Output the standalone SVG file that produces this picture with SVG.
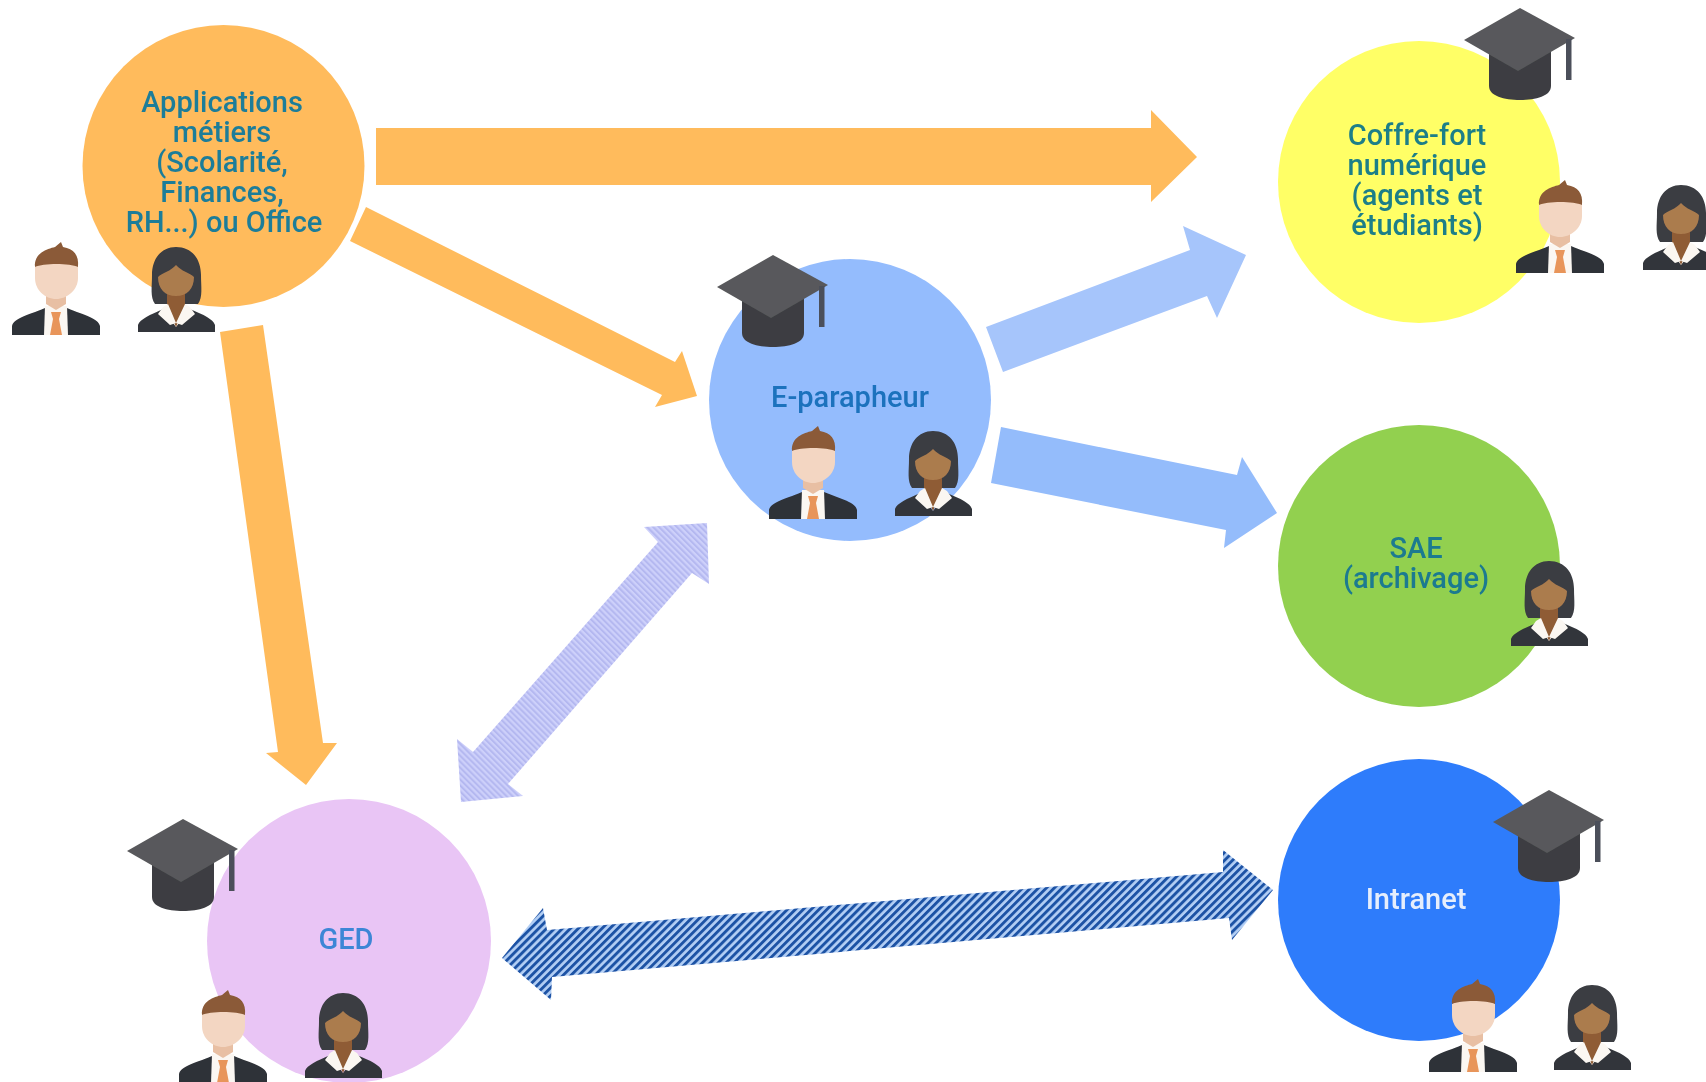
<svg xmlns="http://www.w3.org/2000/svg" width="1706" height="1082" viewBox="0 0 1706 1082">
<style>
.lbl{font-family:"Roboto","Liberation Sans",sans-serif;font-weight:500;font-size:29px;text-anchor:middle}
.o{fill:#ffbb5c}
</style>
<defs>
<filter id="soft" x="0" y="0" width="100%" height="100%"><feGaussianBlur stdDeviation="0.55"/></filter>
<pattern id="lav" width="4.2" height="4.2" patternUnits="userSpaceOnUse" patternTransform="rotate(-45)"><rect width="4.2" height="4.2" fill="#cdd0fa"/><rect width="2" height="4.2" fill="#b4b8f0"/></pattern>
<pattern id="navy" width="5.6" height="5.6" patternUnits="userSpaceOnUse" patternTransform="rotate(45)"><rect width="5.6" height="5.6" fill="#b3cff5"/><rect width="2.9" height="5.6" fill="#1f52a5"/></pattern>
<g id="man">
<path d="M0,93V84C2,76 14,74 33,66V93Z M88,93V84C86,76 74,74 55,66V93Z" fill="#2e3137"/>
<path d="M33,64H55L56,93H32Z" fill="#fbf7f2"/>
<path d="M34,50H54V62L44,68L34,62Z" fill="#e8bfa3"/>
<path d="M39,70H49L47,77H41Z M41,77H47L50,93H38Z" fill="#e8955a"/>
<path d="M23,25V36C23,48 33,57 44,57C55,57 66,48 66,36V25C60,20 30,20 23,25Z" fill="#f3d6c2"/>
<path d="M23,25C22,11 35,7 43,5L49,0L51,5C62,7 67,13 66,25C58,21 31,21 23,25Z" fill="#8b5a37"/>
</g>
<g id="woman">
<path d="M38,0C54,0 63,12 63,28C63,40 65,50 60,57H17C12,50 14,40 14,28C14,12 23,0 38,0Z" fill="#3a3c42"/>
<path d="M0,85V78C2,72 12,68 25,62L38,80L52,62C66,68 75,72 77,78V85Z" fill="#33363b"/>
<path d="M29,44H47V60L38,80L29,60Z" fill="#8f5c35"/>
<path d="M25,60L30,57L38,76L32,78L20,67Z M52,60L47,57L38,76L44,78L57,67Z" fill="#fbf7f2"/>
<path d="M38,18C33,24 24,26 20,30C20,42 27,49 38,49C49,49 56,42 56,30C52,26 43,24 38,18Z" fill="#ab7b4e"/>
</g>
<g id="cap">
<path d="M25,40V78C25,88 40,92 56,92C72,92 87,88 87,78V40Z" fill="#3d3e42"/>
<path d="M0,32L56,0L111,30L54,63Z" fill="#58595b"/>
<rect x="102" y="31" width="5.5" height="41" fill="#4b4f5a"/>
</g>
</defs>
<rect width="1706" height="1082" fill="#ffffff"/>
<g filter="url(#soft)">
<g id="connectors">
<polygon class="o" points="376,128 1151,128 1151,110 1197,157 1151,202 1151,185 376,185"/>
<polygon class="o" points="366,207 675,362 682,351 697,396 655,407 662,395 350,241"/>
<polygon class="o" points="220,332 263,325 323,743 337,743 306,785 266,753 278,752"/>
<polygon fill="#a6c5fb" points="986,327 1190,250 1183,226 1246,255 1217,318 1207,296 1003,372"/>
<polygon fill="#94bcfb" points="1001,427 1237,475 1242,457 1277,513 1224,548 1226,530 991,483"/>
<polygon fill="url(#lav)" points="707,523 644,527 658,542 473,752 457,739 461,802 523,796 508,784 692,573 709,584"/>
<polygon fill="url(#navy)" points="502,958 543,908 547,930 1223,872 1223,850 1273,890 1232,940 1229,918 552,977 551,1000"/>
</g>
<g id="node-applications">
<circle cx="223.500" cy="166" r="141" fill="#ffbb5c"/>
<text class="lbl" fill="#1f7d99"><tspan x="222" y="112">Applications</tspan><tspan x="222" y="142">métiers</tspan><tspan x="222" y="172">(Scolarité,</tspan><tspan x="222" y="202">Finances,</tspan><tspan x="224" y="232">RH...) ou Office</tspan></text>
<use href="#man" x="12" y="242"/>
<use href="#woman" x="138" y="247"/>
</g>
<g id="node-eparapheur">
<circle cx="850" cy="400" r="141" fill="#94bcfd"/>
<text class="lbl" fill="#1b72bd" x="850" y="407">E-parapheur</text>
<use href="#cap" x="717" y="255"/>
<use href="#man" x="769" y="426"/>
<use href="#woman" x="895" y="431"/>
</g>
<g id="node-coffre">
<circle cx="1419" cy="182" r="141" fill="#ffff66"/>
<text class="lbl" fill="#1f7f88"><tspan x="1417" y="145">Coffre-fort</tspan><tspan x="1417" y="175">numérique</tspan><tspan x="1417" y="205">(agents et</tspan><tspan x="1417" y="235">étudiants)</tspan></text>
<use href="#cap" x="1464" y="8"/>
<use href="#man" x="1516" y="180"/>
<use href="#woman" x="1643" y="185"/>
</g>
<g id="node-sae">
<circle cx="1419" cy="566" r="141" fill="#92d050"/>
<text class="lbl" fill="#1a7a90"><tspan x="1416" y="558">SAE</tspan><tspan x="1416" y="588">(archivage)</tspan></text>
<use href="#woman" x="1511" y="561"/>
</g>
<g id="node-intranet">
<circle cx="1419" cy="900" r="141" fill="#2e7cfb"/>
<text class="lbl" fill="#e6eefc" x="1416" y="909">Intranet</text>
<use href="#cap" x="1493" y="790"/>
<use href="#man" x="1429" y="979"/>
<use href="#woman" x="1554" y="985"/>
</g>
<g id="node-ged">
<circle cx="349" cy="941" r="142" fill="#e9c5f5"/>
<text class="lbl" fill="#3d86d6" x="346" y="949">GED</text>
<use href="#cap" x="127" y="819"/>
<use href="#man" x="179" y="990"/>
<use href="#woman" x="305" y="993"/>
</g>
</g>
</svg>
